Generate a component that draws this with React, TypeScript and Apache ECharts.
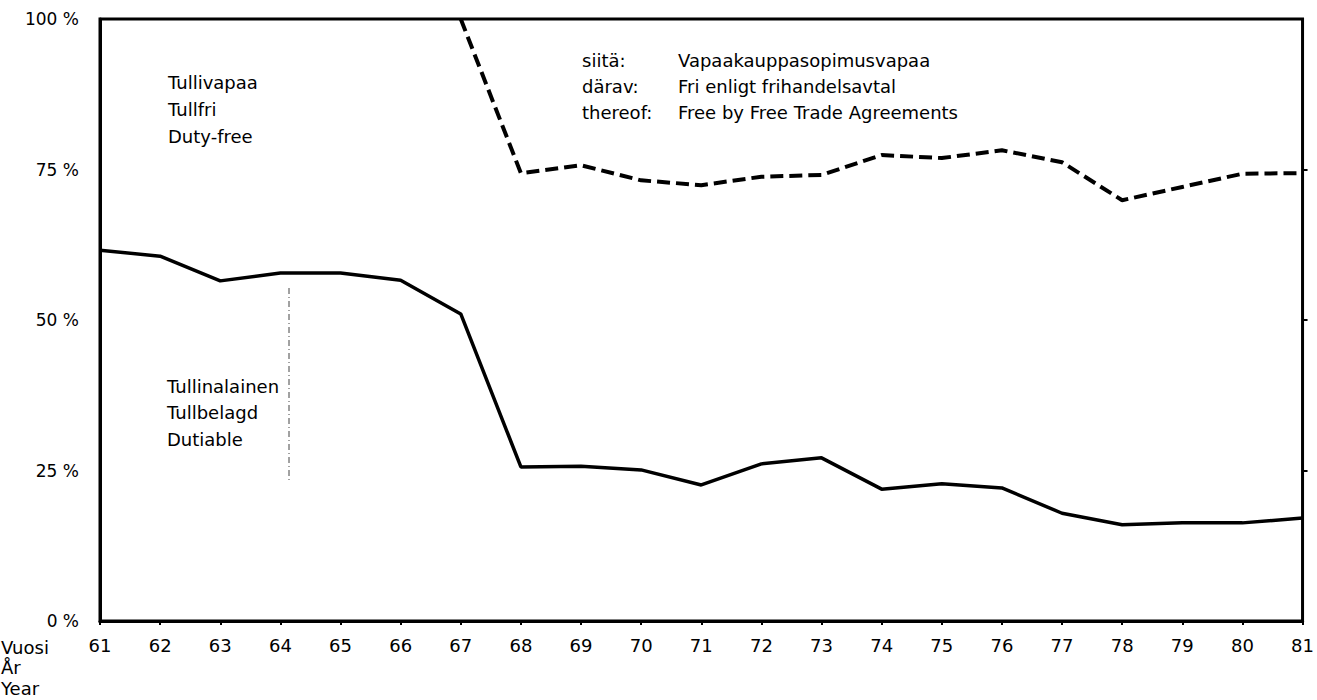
import React, { useEffect, useRef } from "react";
import * as echarts from "echarts";

const years = ["61","62","63","64","65","66","67","68","69","70","71","72","73","74","75","76","77","78","79","80","81"];
const dutiable = [61.6, 60.6, 56.5, 57.8, 57.8, 56.6, 51.0, 25.6, 25.7, 25.1, 22.6, 26.1, 27.1, 21.9, 22.8, 22.1, 17.9, 16.0, 16.3, 16.3, 17.1];
const ftaFree = [null, null, null, null, null, null, 100, 74.4, 75.7, 73.2, 72.4, 73.8, 74.1, 77.4, 76.9, 78.2, 76.2, 69.9, 72.1, 74.3, 74.4];
const rightTicks = [25, 50, 75];
const dutyFreeLabel = ["Tullivapaa", "Tullfri", "Duty-free"];
const dutiableLabel = ["Tullinalainen", "Tullbelagd", "Dutiable"];
const ftaPrefix = ["siitä:", "därav:", "thereof:"];
const ftaText = ["Vapaakauppasopimusvapaa", "Fri enligt frihandelsavtal", "Free by Free Trade Agreements"];
const yearLabel = ["Vuosi", "År", "Year"];

const FONT = "DejaVu Sans";

function textBlock(lines: string[], x: number, y0: number, step: number, size: number) {
  return lines.map((t, i) => ({
    type: "text",
    x: x,
    y: y0 + i * step,
    style: { text: t, fill: "#000", font: `${size}px "${FONT}"`, textVerticalAlign: "middle", verticalAlign: "middle" },
  }));
}

export default function App() {
  const ref = useRef<HTMLDivElement>(null);
  useEffect(() => {
    if (!ref.current) return;
    const chart = echarts.init(ref.current, undefined, { renderer: "svg" });
    chart.setOption({
      animation: false,
      backgroundColor: "#fff",
      grid: {
        left: 100,
        right: 8,
        top: 19,
        bottom: 79,
        show: true,
        borderColor: "#000",
        borderWidth: 3,
      },
      xAxis: {
        type: "category",
        data: years,
        boundaryGap: false,
        axisLine: { lineStyle: { color: "#000", width: 3 } },
        axisTick: { show: true, length: 4, lineStyle: { color: "#000", width: 2 } },
        axisLabel: { color: "#000", fontFamily: FONT, fontSize: 18, margin: 15, showMaxLabel: true, showMinLabel: true, interval: 0 },
        splitLine: { show: false },
      },
      yAxis: [
        {
          type: "value",
          min: 0,
          max: 100,
          interval: 25,
          axisLine: { show: true, lineStyle: { color: "#000", width: 3 } },
          axisTick: { show: false },
          axisLabel: { color: "#000", fontFamily: FONT, fontSize: 17, margin: 21, formatter: (v: number) => `${v} %` },
          splitLine: { show: false },
        },
        {
          type: "value",
          position: "right",
          min: 0,
          max: 100,
          interval: 25,
          axisLine: { show: false },
          axisTick: { show: true, length: 5, customValues: rightTicks, lineStyle: { color: "#000", width: 2 } },
          axisLabel: { show: false },
          splitLine: { show: false },
        },
      ],
      series: [
        {
          type: "line",
          data: dutiable,
          symbol: "none",
          lineStyle: { color: "#000", width: 3.5 },
          z: 3,
        },
        {
          type: "line",
          data: ftaFree,
          symbol: "none",
          connectNulls: false,
          lineStyle: { color: "#000", width: 4, type: [13, 6] },
          z: 3,
        },
      ],
      graphic: [
        ...textBlock(dutyFreeLabel, 168, 82, 27, 18),
        ...textBlock(dutiableLabel, 167, 386, 26.5, 18),
        ...textBlock(ftaPrefix, 582, 60, 26, 18),
        ...textBlock(ftaText, 678, 60, 26, 18),
        ...textBlock(yearLabel, 1, 647, 20.5, 18),
        {
          type: "line",
          shape: { x1: 289, y1: 288, x2: 289, y2: 480 },
          style: { stroke: "#444", lineWidth: 1, lineDash: [6, 3, 1, 3] },
        },
      ],
    });
    return () => chart.dispose();
  }, []);
  return <div ref={ref} style={{ position: "fixed", left: 0, top: 0, width: 1317, height: 700 }} />;
}
